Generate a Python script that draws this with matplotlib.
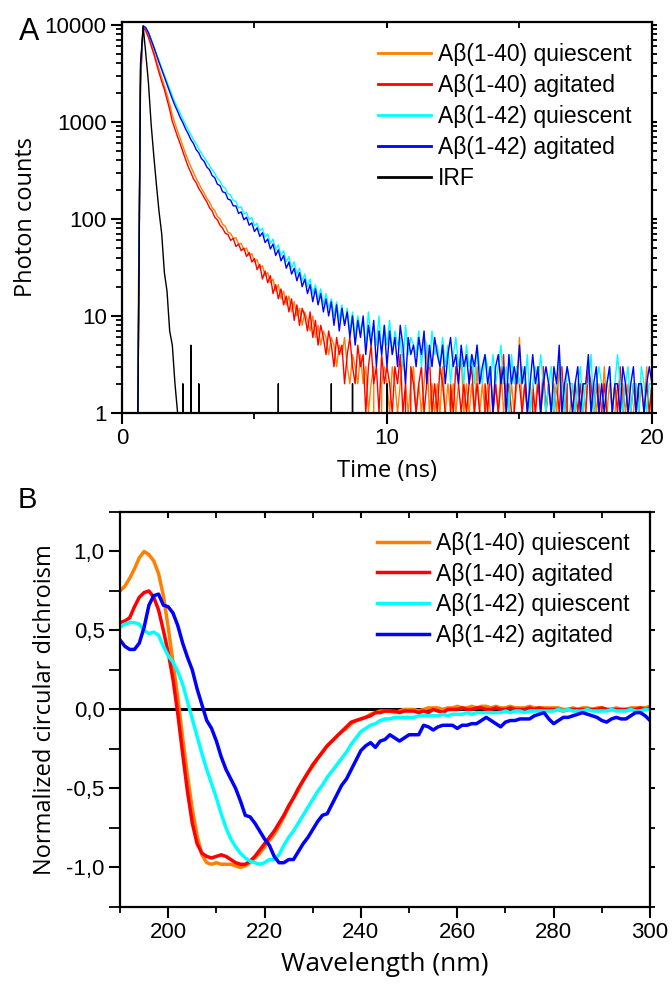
import matplotlib
matplotlib.use("Agg")
import matplotlib.pyplot as plt
from matplotlib.ticker import FixedLocator, FixedFormatter, NullFormatter

# ---------------- Panel A data: fluorescence decays (photon counts vs time, 0.1 ns bins)
time_ns = [round(i * 0.1, 1) for i in range(201)]

ab40_quiescent = [
    0, 0, 0, 0, 0, 0, 5, 2300, 9600, 8800,
    7700, 6400, 5300, 4300, 3500, 2850, 2350, 1900, 1520, 1180,
    960, 800, 670, 560, 470, 400, 345, 300, 262, 233,
    205, 186, 163, 150, 131, 122, 106, 100, 88, 84,
    73, 71, 63, 64, 55, 56, 48, 50, 42, 44,
    36, 38, 31, 33, 26, 28, 22, 24, 18, 21,
    15, 18, 13, 16, 11, 14, 10, 12, 8, 11,
    9, 7, 10, 6, 8, 5, 7, 6, 4, 6,
    5, 3, 5, 4, 6, 3, 2, 4, 3, 2,
    4, 2, 3, 1, 2, 3, 0, 0, 2, 3,
    2,
    1, 3, 2, 1, 2, 4, 2, 1, 2, 3, 1, 2, 1, 2, 5, 1, 2, 1, 2, 1,
    3, 1, 2, 1, 2, 1, 2, 4, 1, 2, 1, 2, 1, 3, 1, 2, 1, 2, 1, 1,
    2, 1, 3, 1, 2, 1, 2, 1, 2, 6, 1, 2, 1, 2, 1, 1, 3, 1, 2, 1,
    2, 1, 2, 1, 3, 1, 2, 1, 1, 2, 1, 2, 1, 2, 1, 3, 1, 2, 1, 2,
    1, 3, 1, 2, 1, 1, 2, 1, 2, 1, 2, 1, 1, 2, 1, 2, 1, 3, 1, 2,
]

ab40_agitated = [
    0, 0, 0, 0, 0, 0, 1, 2600, 9700, 8600,
    7400, 6100, 5000, 4000, 3200, 2600, 2150, 1700, 1340, 1010,
    840, 700, 590, 490, 410, 345, 300, 258, 236, 205,
    186, 166, 150, 131, 121, 104, 98, 86, 80, 71,
    69, 60, 63, 52, 55, 47, 50, 41, 45, 36,
    39, 30, 34, 24, 29, 22, 26, 17, 21, 15,
    19, 13, 16, 11, 15, 9, 13, 8, 12, 10,
    7, 11, 6, 9, 5, 8, 6, 4, 7, 5,
    3, 6, 4, 5, 2, 4, 6, 3, 2, 5,
    3, 4, 1, 3, 5, 2, 3, 1, 4, 2,
    3,
    2, 1, 3, 2, 4, 1, 2, 0, 3, 2, 1, 2, 3, 1, 2, 4, 1, 2, 1, 3,
    2, 1, 0, 2, 1, 3, 2, 1, 2, 1, 2, 3, 1, 2, 1, 0, 2, 1, 3, 1,
    2, 1, 2, 4, 1, 2, 1, 1, 3, 2, 1, 2, 1, 0, 2, 1, 2, 1, 3, 1,
    2, 1, 1, 2, 1, 3, 1, 2, 0, 1, 2, 1, 2, 1, 1, 3, 2, 1, 2, 1,
    1, 2, 1, 0, 1, 2, 1, 3, 1, 2, 1, 1, 2, 1, 2, 0, 1, 2, 1, 2,
]

ab42_quiescent = [
    0, 0, 0, 0, 0, 0, 2, 3200, 9500, 9400,
    8400, 7150, 6050, 5050, 4250, 3600, 3050, 2580, 2190, 1850,
    1590, 1390, 1210, 1060, 930, 830, 735, 655, 590, 525,
    475, 432, 390, 356, 320, 296, 262, 246, 216, 207,
    182, 176, 154, 152, 130, 133, 112, 117, 98, 103,
    85, 90, 75, 80, 65, 70, 56, 62, 48, 54,
    42, 47, 36, 41, 31, 36, 27, 31, 23, 27,
    20, 24, 17, 21, 15, 19, 13, 17, 12, 15,
    10, 14, 9, 13, 8, 12, 7, 11, 6, 10,
    7, 9, 5, 11, 6, 8, 5, 10, 4, 8,
    5,
    9, 4, 7, 5, 6, 3, 8, 4, 6, 5, 4, 7, 3, 6, 5, 3, 7, 4, 5, 3,
    6, 3, 5, 2, 4, 6, 3, 4, 2, 5, 3, 4, 2, 5, 3, 2, 4, 3, 2, 4,
    2, 3, 5, 2, 3, 1, 4, 2, 3, 2, 3, 2, 4, 1, 2, 3, 2, 4, 2, 1,
    2, 3, 1, 2, 4, 2, 1, 3, 2, 2, 1, 2, 3, 1, 2, 2, 4, 1, 2, 3,
    2, 1, 2, 3, 1, 2, 4, 2, 1, 2, 3, 1, 2, 2, 1, 3, 2, 1, 2, 2,
]

ab42_agitated = [
    0, 0, 0, 0, 0, 0, 1, 3500, 9800, 9300,
    8300, 7000, 5900, 4900, 4100, 3450, 2900, 2440, 2060, 1720,
    1470, 1280, 1100, 975, 845, 752, 655, 596, 518, 478,
    418, 392, 343, 322, 280, 266, 228, 220, 190, 186,
    160, 156, 136, 136, 114, 118, 98, 104, 86, 91,
    74, 81, 66, 72, 57, 62, 49, 55, 42, 48,
    37, 42, 31, 36, 27, 31, 23, 28, 20, 24,
    17, 21, 14, 19, 13, 17, 11, 15, 10, 14,
    8, 13, 7, 12, 8, 11, 6, 10, 5, 9,
    6, 10, 4, 8, 5, 9, 3, 7, 4, 8,
    3,
    7, 4, 6, 3, 8, 5, 2, 6, 4, 5, 3, 6, 4, 7, 2, 5, 3, 6, 4, 3,
    5, 2, 4, 6, 3, 4, 2, 5, 3, 4, 2, 4, 3, 5, 2, 3, 4, 2, 3, 1,
    3, 4, 2, 3, 1, 4, 2, 3, 2, 5, 2, 3, 1, 2, 4, 2, 3, 1, 2, 3,
    2, 1, 3, 2, 5, 1, 2, 3, 2, 1, 2, 3, 1, 2, 2, 4, 1, 2, 3, 1,
    2, 1, 2, 3, 1, 2, 2, 1, 3, 2, 1, 2, 3, 1, 2, 2, 1, 2, 3, 2,
]

irf = [
    0, 0, 0, 0, 0, 0, 1, 4000, 9600, 5000,
    2500, 950, 450, 225, 118, 70, 28, 18, 7, 5,
    2, 1, 0, 2, 0, 0, 5, 0, 0, 2,
    0, 0, 0, 0, 0, 0, 0, 0, 0, 0,
    0, 0, 0, 0, 0, 0, 0, 0, 0, 0,
    0, 0, 0, 0, 0, 0, 0, 0, 0, 2,
    0, 0, 0, 0, 0, 0, 0, 0, 0, 0,
    0, 0, 0, 0, 0, 0, 0, 0, 0, 2,
    0, 0, 0, 0, 0, 0, 0, 2, 0, 0,
    0, 0, 0, 0, 0, 0, 0, 0, 0, 0,
    2,
] + [0] * 100

decay_labels = ["Aβ(1-40) quiescent", "Aβ(1-40) agitated",
                "Aβ(1-42) quiescent", "Aβ(1-42) agitated", "IRF"]
decay_colors = ["#ff8000", "#ff0000", "#00ffff", "#0000ff", "#000000"]

# ---------------- Panel B data: CD spectra
wavelength_nm = list(range(190, 301))

cd_ab40_quiescent = [
    0.75, 0.78, 0.83, 0.89, 0.96, 1.00, 0.98, 0.94, 0.86, 0.72,
    0.52, 0.30, 0.07, -0.18, -0.42, -0.63, -0.80, -0.92, -0.97, -0.98,
    -0.97, -0.98, -0.98, -0.98, -0.99, -1.00, -0.99, -0.97, -0.94, -0.91,
    -0.87, -0.83, -0.79, -0.74, -0.68, -0.62, -0.56, -0.51, -0.45, -0.40,
    -0.36, -0.31, -0.27, -0.23, -0.20, -0.17, -0.14, -0.12, -0.09, -0.07,
    -0.06, -0.05, -0.03, -0.02, -0.01, -0.01, -0.01, -0.02, -0.01, 0.00,
    0.00, 0.00, -0.01, 0.00, 0.01, 0.01, 0.01, 0.00, 0.01, 0.01,
    0.02, 0.01, 0.01, 0.02, 0.01, 0.02, 0.02, 0.01, 0.02, 0.01,
    0.01, 0.02, 0.01, 0.01, 0.01, 0.02, 0.01, 0.01, 0.01, 0.01,
    0.01, 0.01, 0.00, 0.00, 0.01, 0.00, 0.01, 0.01, 0.00, 0.01,
    0.01, 0.00, 0.00, 0.01, 0.00, 0.00, 0.01, 0.01, 0.01, 0.01, 0.02,
]

cd_ab40_agitated = [
    0.55, 0.56, 0.58, 0.65, 0.71, 0.74, 0.75, 0.71, 0.63, 0.50,
    0.36, 0.19, -0.03, -0.28, -0.52, -0.72, -0.85, -0.91, -0.93, -0.94,
    -0.93, -0.92, -0.93, -0.95, -0.97, -0.98, -0.98, -0.96, -0.93, -0.89,
    -0.85, -0.81, -0.77, -0.72, -0.67, -0.61, -0.56, -0.50, -0.45, -0.40,
    -0.35, -0.31, -0.27, -0.23, -0.20, -0.17, -0.14, -0.11, -0.08, -0.07,
    -0.06, -0.05, -0.04, -0.02, -0.02, -0.01, -0.01, -0.01, -0.02, -0.01,
    -0.01, -0.01, -0.02, -0.01, -0.02, 0.00, -0.01, -0.02, 0.00, 0.00,
    0.00, 0.01, 0.00, 0.00, 0.01, 0.01, 0.00, 0.00, 0.01, 0.00,
    0.00, 0.01, 0.00, 0.00, 0.00, 0.01, 0.00, 0.01, 0.00, 0.00,
    0.00, 0.00, -0.01, 0.00, 0.00, 0.00, 0.00, 0.00, 0.00, 0.00,
    0.01, 0.00, 0.00, 0.00, 0.00, 0.00, 0.00, 0.00, 0.01, 0.00, 0.01,
]

cd_ab42_quiescent = [
    0.52, 0.54, 0.55, 0.55, 0.54, 0.50, 0.48, 0.49, 0.47, 0.40,
    0.34, 0.30, 0.24, 0.16, 0.05, -0.06, -0.17, -0.28, -0.38, -0.47,
    -0.56, -0.66, -0.75, -0.82, -0.87, -0.91, -0.94, -0.96, -0.97, -0.98,
    -0.97, -0.95, -0.95, -0.92, -0.86, -0.81, -0.77, -0.72, -0.67, -0.62,
    -0.57, -0.52, -0.48, -0.43, -0.39, -0.35, -0.31, -0.27, -0.22, -0.18,
    -0.14, -0.12, -0.10, -0.09, -0.07, -0.06, -0.06, -0.05, -0.05, -0.05,
    -0.05, -0.05, -0.04, -0.04, -0.04, -0.04, -0.04, -0.03, -0.04, -0.03,
    -0.03, -0.03, -0.02, -0.03, -0.02, -0.02, -0.02, -0.02, -0.02, -0.02,
    -0.01, -0.02, -0.01, -0.01, -0.02, -0.01, -0.01, -0.01, -0.01, -0.01,
    -0.01, 0.00, -0.01, 0.00, -0.01, -0.01, -0.01, 0.00, -0.01, -0.01,
    -0.01, -0.01, 0.00, -0.01, -0.01, -0.01, 0.00, -0.01, -0.01, 0.00, 0.00,
]

cd_ab42_agitated = [
    0.44, 0.40, 0.38, 0.38, 0.42, 0.52, 0.66, 0.72, 0.73, 0.66,
    0.65, 0.61, 0.53, 0.42, 0.33, 0.25, 0.13, 0.03, -0.07, -0.12,
    -0.20, -0.30, -0.38, -0.44, -0.50, -0.58, -0.67, -0.68, -0.72, -0.77,
    -0.82, -0.86, -0.93, -0.97, -0.97, -0.95, -0.95, -0.90, -0.85, -0.81,
    -0.76, -0.71, -0.67, -0.66, -0.60, -0.54, -0.48, -0.44, -0.38, -0.32,
    -0.26, -0.23, -0.21, -0.24, -0.20, -0.19, -0.16, -0.18, -0.20, -0.18,
    -0.16, -0.16, -0.16, -0.10, -0.11, -0.13, -0.11, -0.10, -0.10, -0.10,
    -0.12, -0.10, -0.10, -0.09, -0.09, -0.07, -0.05, -0.07, -0.09, -0.11,
    -0.08, -0.07, -0.07, -0.06, -0.06, -0.06, -0.04, -0.03, -0.02, -0.06,
    -0.09, -0.07, -0.05, -0.05, -0.04, -0.03, -0.02, -0.03, -0.04, -0.05,
    -0.07, -0.08, -0.06, -0.05, -0.06, -0.06, -0.04, -0.02, -0.02, -0.04, -0.07,
]

cd_labels = decay_labels[:4]
cd_colors = decay_colors[:4]

# tick labels
decay_yticks = [1, 10, 100, 1000, 10000]
decay_yticklabels = ["1", "10", "100", "1000", "10000"]
decay_xticks = [0, 10, 20]
cd_xticks = [200, 220, 240, 260, 280, 300]
cd_yticks = [-1.0, -0.5, 0.0, 0.5, 1.0]
cd_yticklabels = ["-1,0", "-0,5", "0,0", "0,5", "1,0"]

# ---------------- figure
TICKFONT = "Liberation Sans"
LABELFONT = "Open Sans"
plt.rcParams["font.family"] = [TICKFONT, "DejaVu Sans"]
plt.rcParams["axes.linewidth"] = 1.6

fig = plt.figure(figsize=(6.72, 9.84), dpi=100)
axA = fig.add_axes([0.1815, 0.5803, 0.7887, 0.3974])
axB = fig.add_axes([0.1786, 0.0783, 0.7887, 0.4014])


def style_ticks(ax):
    ax.tick_params(which="major", direction="out", length=8, width=1.5,
                   labelsize=16, pad=3)
    ax.tick_params(which="minor", direction="out", length=4.5, width=1.3)
    ax.tick_params(which="both", top=True, right=True, labeltop=False,
                   labelright=False)
    # mirrored ticks: short, inward on top, outward on right
    for t in ax.xaxis.get_major_ticks() + ax.xaxis.get_minor_ticks():
        t.tick2line.set_markersize(4)
        t.tick2line.set_marker(3)  # TICKDOWN -> inward on top spine
    for t in ax.yaxis.get_major_ticks() + ax.yaxis.get_minor_ticks():
        t.tick2line.set_markersize(3.5)


# Panel A
series = [ab40_quiescent, ab40_agitated, ab42_quiescent, ab42_agitated, irf]
for vals, lab, col in zip(series, decay_labels, decay_colors):
    axA.plot(time_ns, vals, color=col, lw=1.0, label=lab)
axA.set_yscale("log", nonpositive="clip")
axA.set_xlim(0, 20)
axA.set_ylim(1, 10700)
axA.yaxis.set_major_locator(FixedLocator(decay_yticks))
axA.yaxis.set_major_formatter(FixedFormatter(decay_yticklabels))
axA.yaxis.set_minor_formatter(NullFormatter())
axA.xaxis.set_major_locator(FixedLocator(decay_xticks))
axA.xaxis.set_minor_locator(FixedLocator([5, 15]))
style_ticks(axA)
axA.set_xlabel("Time (ns)", fontsize=17, family=LABELFONT, labelpad=7)
axA.set_ylabel("Photon counts", fontsize=17, family=LABELFONT, labelpad=5)
legA = axA.legend(loc="upper left", bbox_to_anchor=(0.484, 0.945), frameon=False,
                  fontsize=16.5, handlelength=2.3, handletextpad=0.3,
                  labelspacing=0.34, borderpad=0, borderaxespad=0)
for h in legA.get_lines():
    h.set_linewidth(2)
fig.text(0.028, 0.959, "A", fontsize=22, family=TICKFONT)

# Panel B
cd_series = [cd_ab40_quiescent, cd_ab40_agitated, cd_ab42_quiescent, cd_ab42_agitated]
axB.axhline(0, color="black", lw=2.2, zorder=1)
for vals, lab, col in zip(cd_series, cd_labels, cd_colors):
    axB.plot(wavelength_nm, vals, color=col, lw=2.5, label=lab, zorder=2)
axB.set_xlim(190, 300)
axB.set_ylim(-1.25, 1.25)
axB.xaxis.set_major_locator(FixedLocator(cd_xticks))
axB.xaxis.set_minor_locator(FixedLocator([190, 210, 230, 250, 270, 290]))
axB.yaxis.set_major_locator(FixedLocator(cd_yticks))
axB.yaxis.set_major_formatter(FixedFormatter(cd_yticklabels))
axB.yaxis.set_minor_locator(FixedLocator([-1.25, -0.75, -0.25, 0.25, 0.75, 1.25]))
style_ticks(axB)
axB.tick_params(axis="y", which="minor", length=8)
for t in axB.yaxis.get_minor_ticks():
    t.tick2line.set_markersize(3.5)
axB.set_xlabel("Wavelength (nm)", fontsize=19, family=LABELFONT, labelpad=6)
axB.set_ylabel("Normalized circular dichroism", fontsize=17, family=LABELFONT,
               labelpad=7)
legB = axB.legend(loc="upper left", bbox_to_anchor=(0.484, 0.95), frameon=False,
                  fontsize=16.5, handlelength=2.3, handletextpad=0.3,
                  labelspacing=0.34, borderpad=0, borderaxespad=0)
for h in legB.get_lines():
    h.set_linewidth(2.5)
fig.text(0.026, 0.484, "B", fontsize=21, family=TICKFONT)

fig.savefig("out.png", dpi=100)
